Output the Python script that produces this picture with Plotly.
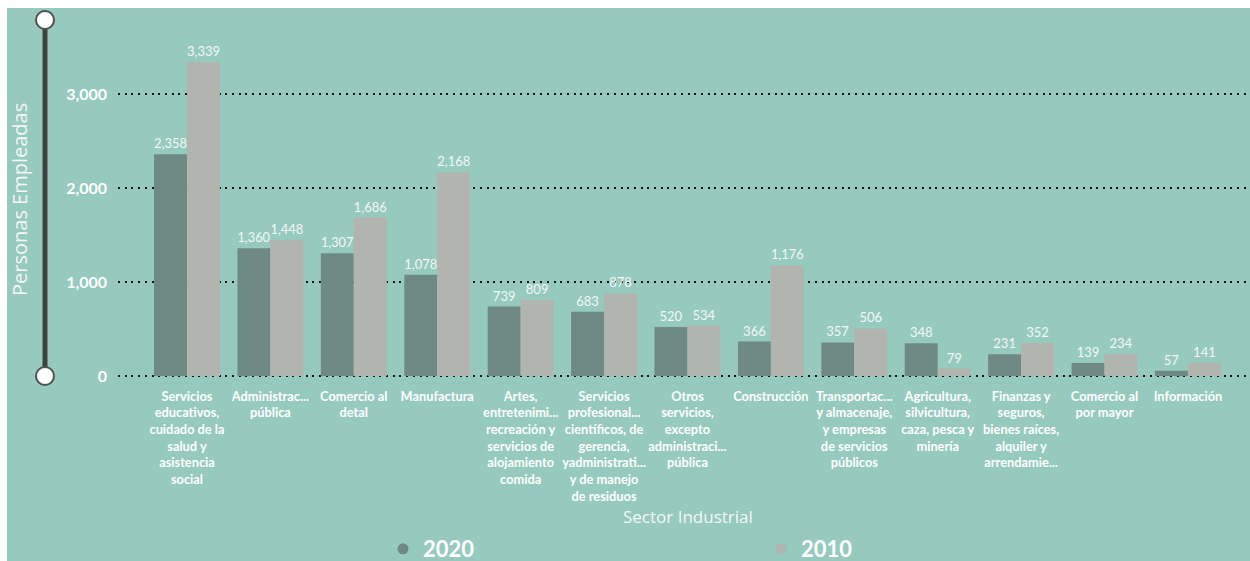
import plotly.graph_objects as go

# Sector labels (wrapped as shown on the axis)
sectores = [
    "Servicios<br>educativos,<br>cuidado de la<br>salud y<br>asistencia<br>social",
    "Administrac...<br>pública",
    "Comercio al<br>detal",
    "Manufactura",
    "Artes,<br>entretenimi...<br>recreación y<br>servicios de<br>alojamiento<br>comida",
    "Servicios<br>profesional...<br>científicos, de<br>gerencia,<br>yadministrati...<br>y de manejo<br>de residuos",
    "Otros<br>servicios,<br>excepto<br>administraci...<br>pública",
    "Construcción",
    "Transportac...<br>y almacenaje,<br>y empresas<br>de servicios<br>públicos",
    "Agricultura,<br>silvicultura,<br>caza, pesca y<br>minería",
    "Finanzas y<br>seguros,<br>bienes raíces,<br>alquiler y<br>arrendamie...",
    "Comercio al<br>por mayor",
    "Información",
]
empleo_2020 = [2358, 1360, 1307, 1078, 739, 683, 520, 366, 357, 348, 231, 139, 57]
empleo_2010 = [3339, 1448, 1686, 2168, 809, 878, 534, 1176, 506, 79, 352, 234, 141]
y_ticks = [0, 1000, 2000, 3000]
y_ticktext = ["0", "1,000", "2,000", "3,000"]

BG = "#96CABE"
C2020 = "#6F8984"
C2010 = "#B2B5AF"
LABEL = "#F4F7F6"

W, H = 1250, 561
L, R, T, B = 118, 2, 20, 181
pw, ph = W - L - R, H - T - B

def px_x(p):
    return (p - L) / pw

def px_y(p):
    return (H - B - p) / ph

idx = list(range(len(sectores)))

fig = go.Figure()
for name, vals, col in [("2020", empleo_2020, C2020), ("2010", empleo_2010, C2010)]:
    fig.add_trace(go.Bar(
        x=idx, y=vals, name=name, marker=dict(color=col, line=dict(width=0)),
        text=[f"{v:,}" for v in vals], textposition="outside",
        textfont=dict(family="Lato, Open Sans, sans-serif", size=13, color=LABEL),
        cliponaxis=False, showlegend=False,
    ))
    # legend entries drawn as round markers
    fig.add_trace(go.Scatter(
        x=[None], y=[None], mode="markers", name=name,
        marker=dict(symbol="circle", size=11, color=col),
    ))

fig.update_layout(
    width=W, height=H,
    margin=dict(l=L, r=R, t=T, b=B, pad=0, autoexpand=False),
    paper_bgcolor=BG, plot_bgcolor=BG,
    barmode="group", bargap=0.21, bargroupgap=0,
    font=dict(family="Lato, Open Sans, sans-serif", color="white"),
    showlegend=True,
    legend=dict(
        orientation="h", x=px_x(383), xanchor="left", y=px_y(549), yanchor="middle",
        font=dict(family="Lato, sans-serif", size=22, color="white", weight="bold"),
        entrywidth=333, entrywidthmode="pixels", bgcolor="rgba(0,0,0,0)",
        itemclick=False, itemdoubleclick=False,
    ),
    xaxis=dict(
        range=[-0.827, 12.72], tickmode="array", tickvals=idx, ticktext=sectores,
        showgrid=False, zeroline=False, showline=False, ticks="",
        tickangle=0, ticklabelstandoff=7,
        tickfont=dict(family="Lato, sans-serif", size=12.8, color="white", weight="bold"),
    ),
    yaxis=dict(
        range=[-42.55, 3787.2], tickmode="array", tickvals=y_ticks, ticktext=y_ticktext,
        showgrid=True, gridcolor="#111111", gridwidth=2.2, griddash="2px,4.7px",
        zeroline=False, showline=False, ticks="", ticklabelstandoff=10,
        tickfont=dict(family="Lato, sans-serif", size=16, color="white", weight="bold"),
    ),
    annotations=[
        dict(text="Personas Empleadas", xref="paper", yref="paper",
             x=px_x(19), y=px_y(200), xanchor="center", yanchor="middle",
             textangle=-90, showarrow=False,
             font=dict(family="Open Sans, sans-serif", size=20, color=LABEL)),
        dict(text="Sector Industrial", xref="paper", yref="paper",
             x=px_x(688), y=px_y(516), xanchor="center", yanchor="middle",
             showarrow=False,
             font=dict(family="Open Sans, sans-serif", size=17, color=LABEL)),
    ],
    shapes=[
        # white frame strips along top and left edges
        dict(type="rect", xref="paper", yref="paper", x0=px_x(-5), x1=px_x(7),
             y0=px_y(H + 5), y1=px_y(-5), fillcolor="white", line=dict(width=0), layer="below"),
        dict(type="rect", xref="paper", yref="paper", x0=px_x(-5), x1=px_x(W + 5),
             y0=px_y(8), y1=px_y(-5), fillcolor="white", line=dict(width=0), layer="below"),
        # zoom slider track
        dict(type="line", xref="paper", yref="paper", x0=px_x(45), x1=px_x(45),
             y0=px_y(20), y1=px_y(376), line=dict(color="#404040", width=5)),
        dict(type="circle", xref="paper", yref="paper", xsizemode="pixel", ysizemode="pixel",
             xanchor=px_x(45), yanchor=px_y(20), x0=-9, x1=9, y0=-9, y1=9,
             fillcolor="white", line=dict(color="#505050", width=2)),
        dict(type="circle", xref="paper", yref="paper", xsizemode="pixel", ysizemode="pixel",
             xanchor=px_x(45), yanchor=px_y(376), x0=-9, x1=9, y0=-9, y1=9,
             fillcolor="white", line=dict(color="#505050", width=2)),
    ],
)

fig.write_html("out.html")
